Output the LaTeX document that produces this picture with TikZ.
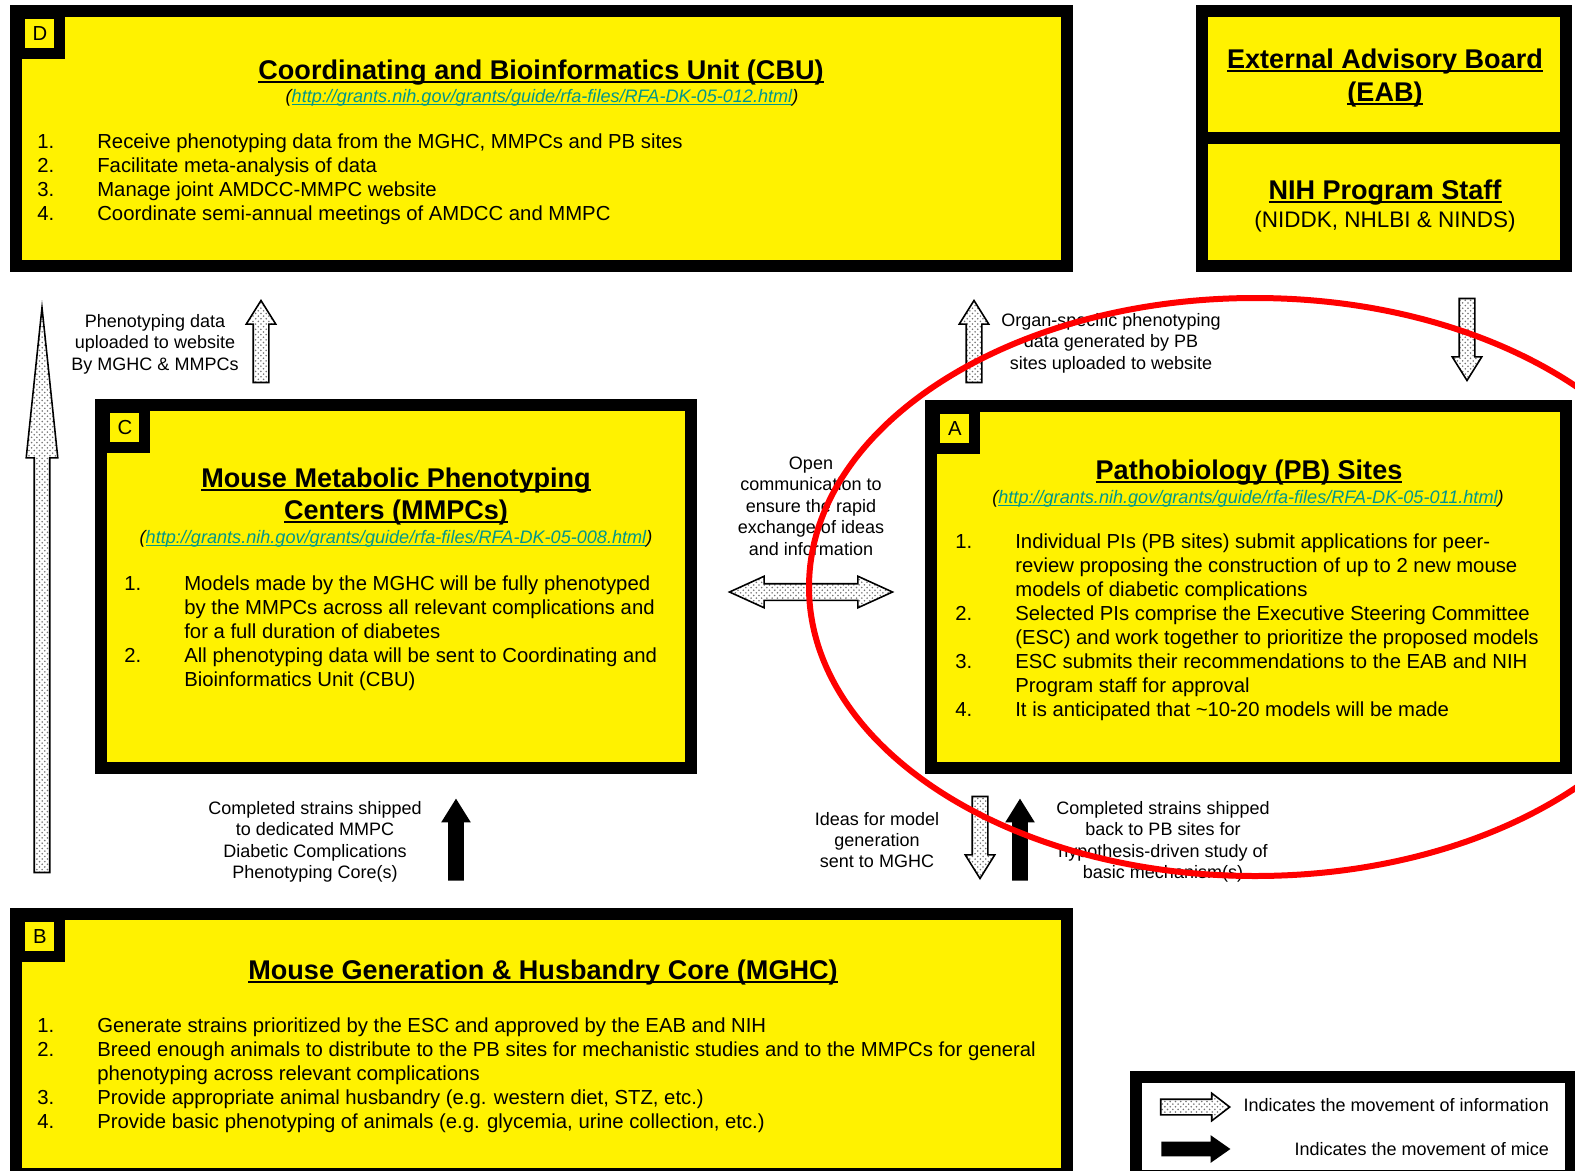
\documentclass[tikz,border=0pt]{standalone}
\usepackage{fontspec}
\setmainfont{Liberation Sans}
\usetikzlibrary{shapes.arrows,patterns,positioning}

\definecolor{linkteal}{RGB}{0,150,140}
\newcommand{\titlefont}{\fontsize{15.4}{17.6}\selectfont\bfseries}
\newcommand{\bodyfont}{\fontsize{11.55}{13.66}\selectfont}
\newcommand{\notefont}{\fontsize{10.25}{12.2}\selectfont}
\newcommand{\linkfont}{\fontsize{10.3}{11}\selectfont\itshape}
% underline: thickness, depth, text
\newcommand{\undl}[3]{\setbox0=\hbox{#3}\rlap{\rule[-#2]{\wd0}{#1}}\box0}
\newcommand{\ttl}[1]{\undl{1.1pt}{2.5pt}{#1}}
\newcommand{\lnk}[1]{(\textcolor{linkteal}{\undl{0.55pt}{1.5pt}{#1}})}

\begin{document}
\begin{tikzpicture}[x=0.02cm, y=-0.02cm,
  panel/.style={draw=black, line width=0.24cm, fill=yellow, outer sep=0pt, inner sep=0pt, anchor=north west},
  tag/.style={fill=yellow, minimum size=0.58cm, inner sep=0pt, anchor=north west, font=\bodyfont},
  title/.style={font=\titlefont, anchor=base},
  link/.style={font=\linkfont, anchor=base},
  items/.style={font=\bodyfont, anchor=base west, inner sep=0pt},
  note/.style={font=\notefont, align=center},
  blockarrow/.style={single arrow, anchor=tip, inner xsep=0pt, inner ysep=0.14cm, minimum height=1.64cm,
    single arrow head extend=0.14cm, single arrow tip angle=64},
  infoarrow/.style={blockarrow, draw=black, line width=0.9pt, pattern=crosshatch dots, pattern color=black!55},
  micearrow/.style={blockarrow, fill=black, inner ysep=0.15cm}]
  \useasboundingbox (0,0) rectangle (1575,1170);
  \clip (0,0) rectangle (1575,1170);

  % Panels
  \node[panel, minimum width=21.02cm, minimum height=5.1cm] (cbu) at (16,11) {};
  \node[panel, minimum width=7.28cm, minimum height=2.54cm] (eab) at (1202,11) {};
  \node[panel, minimum width=7.28cm, minimum height=2.56cm] (nih) at (1202,138) {};
  \node[panel, minimum width=11.8cm, minimum height=7.26cm] (mmpc) at (101,405) {};
  \node[panel, minimum width=12.7cm, minimum height=7.24cm] (pb) at (931,406) {};
  \node[panel, minimum width=21.02cm, minimum height=5.2cm] (mghc) at (16,914) {};
  \node[panel, fill=white, minimum width=8.7cm, minimum height=1.98cm] (legend) at (1136,1077) {};

  % Corner letters
  \foreach \p/\l in {cbu/D, mmpc/C, pb/A, mghc/B}{
    \fill ([shift={(6,6)}]\p.north west) rectangle ++(43,42);
    \node[tag] (tag\l) at ([shift={(9,8)}]\p.north west) {\l};
  }

  % D: coordinating unit
  \node[title] (cbuTitle) at (541,79) {\ttl{Coordinating and Bioinformatics Unit (CBU)}};
  \node[link] (cbuLink) at (542,102) {\lnk{http://grants.nih.gov/grants/guide/rfa-files/RFA-DK-05-012.html}};
  \node[items] (cbuList) at (37,148) {\begin{tabular}[t]{@{}p{1.2cm}@{}l@{}}
    1. & Receive phenotyping data from the MGHC, MMPCs and PB sites\\
    2. & Facilitate meta-analysis of data\\
    3. & Manage joint AMDCC-MMPC website\\
    4. & Coordinate semi-annual meetings of AMDCC and MMPC
  \end{tabular}};

  % EAB and NIH
  \node[title] (eabTitle) at (1385,68) {\ttl{External Advisory Board}};
  \node[title] (eabTitle2) at (1385,101) {\ttl{(EAB)}};
  \node[title] (nihTitle) at (1385,199) {\ttl{NIH Program Staff}};
  \node[font=\fontsize{12.8}{14}\selectfont, anchor=base] (nihSub) at (1385,227) {(NIDDK, NHLBI \& NINDS)};

  % C: phenotyping centers
  \node[title] (mmpcTitle) at (396,487) {\ttl{Mouse Metabolic Phenotyping}};
  \node[title] (mmpcTitle2) at (396,519) {\ttl{Centers (MMPCs)}};
  \node[link] (mmpcLink) at (396,543) {\lnk{http://grants.nih.gov/grants/guide/rfa-files/RFA-DK-05-008.html}};
  \node[items] (mmpcList) at (124,590) {\begin{tabular}[t]{@{}p{1.2cm}@{}l@{}}
    1. & Models made by the MGHC will be fully phenotyped\\
       & by the MMPCs across all relevant complications and\\
       & for a full duration of diabetes\\
    2. & All phenotyping data will be sent to Coordinating and\\
       & Bioinformatics Unit (CBU)
  \end{tabular}};

  % A: pathobiology sites
  \node[title] (pbTitle) at (1249,479) {\ttl{Pathobiology (PB) Sites}};
  \node[link] (pbLink) at (1248,503) {\lnk{http://grants.nih.gov/grants/guide/rfa-files/RFA-DK-05-011.html}};
  \node[items] (pbList) at (955,548) {\begin{tabular}[t]{@{}p{1.2cm}@{}l@{}}
    1. & Individual PIs (PB sites) submit applications for peer-\\
       & review proposing the construction of up to 2 new mouse\\
       & models of diabetic complications\\
    2. & Selected PIs comprise the Executive Steering Committee\\
       & (ESC) and work together to prioritize the proposed models\\
    3. & ESC submits their recommendations to the EAB and NIH\\
       & Program staff for approval\\
    4. & It is anticipated that \textasciitilde10-20 models will be made
  \end{tabular}};

  % B: mouse generation core
  \node[title] (mghcTitle) at (543,979) {\ttl{Mouse Generation \& Husbandry Core (MGHC)}};
  \node[items] (mghcList) at (37,1032) {\begin{tabular}[t]{@{}p{1.2cm}@{}l@{}}
    1. & Generate strains prioritized by the ESC and approved by the EAB and NIH\\
    2. & Breed enough animals to distribute to the PB sites for mechanistic studies and to the MMPCs for general\\
       & phenotyping across relevant complications\\
    3. & Provide appropriate animal husbandry (e.g. western diet, STZ, etc.)\\
    4. & Provide basic phenotyping of animals (e.g. glycemia, urine collection, etc.)
  \end{tabular}};

  % Notes beside the arrows
  \node[note] (pheNote) at (155,344) {Phenotyping data\\uploaded to website\\By MGHC \& MMPCs};
  \node[note] (orgNote) at (1111,343) {Organ-specific phenotyping\\data generated by PB\\sites uploaded to website};
  \node[note] (openNote) at (811,506) {Open\\communication to\\ensure the rapid\\exchange of ideas\\and information};
  \node[note] (shipCNote) at (315,842) {Completed strains shipped\\to dedicated MMPC\\Diabetic Complications\\Phenotyping Core(s)};
  \node[note] (ideaNote) at (877,840) {Ideas for model\\generation\\sent to MGHC};
  \node[note] (shipANote) at (1163,842) {Completed strains shipped\\back to PB sites for\\hypothesis-driven study of\\basic mechanism(s)};

  % Information arrows (placed by their tips)
  \foreach \n/\x/\y/\r in {pheUp/261/299/90, orgUp/974/299/90, eabDown/1467/382/-90, ideaDown/980/880/-90}
    \node[infoarrow, rotate=\r] (\n) at (\x,\y) {};
  \node[infoarrow, rotate=90, minimum height=11.3cm,
    single arrow head extend=0.16cm, single arrow tip angle=12] (webUp) at (42,300) {};
  \node[infoarrow, double arrow, anchor=center, inner ysep=0.15cm, minimum height=3.26cm,
    double arrow head extend=0.15cm, double arrow tip angle=49] (openArrow) at (811,592) {};

  % Mice arrows
  \foreach \n/\x in {shipCUp/456, shipAUp/1020}
    \node[micearrow, rotate=90] (\n) at (\x,798) {};

  % Legend
  \node[infoarrow, minimum height=1.38cm, single arrow head extend=0.12cm,
    single arrow tip angle=75] (legInfo) at (1231,1107) {};
  \node[micearrow, inner ysep=0.14cm, minimum height=1.38cm, single arrow head extend=0.13cm,
    single arrow tip angle=70] (legMice) at (1231,1149) {};
  \node[font=\notefont, anchor=base east] (legInfoTxt) at (1555,1111) {Indicates the movement of information};
  \node[font=\notefont, anchor=base east] (legMiceTxt) at (1555,1155) {Indicates the movement of mice};

  % Red highlight
  \draw[red, line width=0.12cm] (1255,587) ellipse [x radius=446, y radius=289];
\end{tikzpicture}
\end{document}
